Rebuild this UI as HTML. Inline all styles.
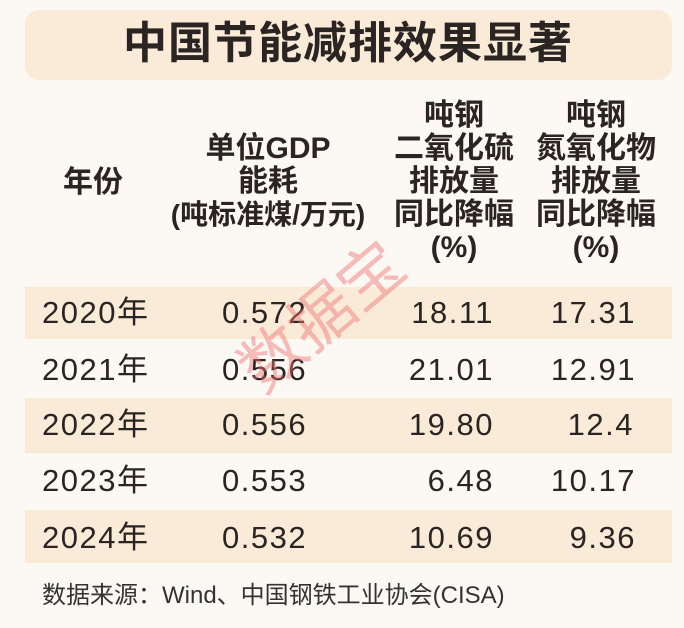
<!DOCTYPE html>
<html><head><meta charset="utf-8"><style>
body{margin:0;width:684px;height:628px;background:#fcf9f4;position:relative;overflow:hidden;font-family:"Liberation Sans","Noto Sans CJK SC",sans-serif;color:#2a2522}
.a{position:absolute;white-space:nowrap}
.band{position:absolute;left:25px;width:647px;background:#faebd9}
.h{font-size:30px;font-weight:bold;line-height:33px;text-align:center}
.r{font-size:31px;line-height:30px;letter-spacing:1.5px}
</style></head><body>
<div class="band" style="top:10px;height:70px;border-radius:14px"></div>
<div class="a" style="left:0;width:696px;top:18px;text-align:center;font-size:44px;font-weight:bold;line-height:52px;letter-spacing:1px">中国节能减排效果显著</div>

<div class="a h" style="left:43px;width:100px;top:166px">年份</div>
<div class="a h" style="left:150px;width:236px;top:132px">单位GDP<br>能耗<br><span style="font-size:28px">(吨标准煤/万元)</span></div>
<div class="a h" style="left:384px;width:140px;top:99px">吨钢<br>二氧化硫<br>排放量<br>同比降幅<br>(%)</div>
<div class="a h" style="left:526px;width:140px;top:99px">吨钢<br>氮氧化物<br>排放量<br>同比降幅<br>(%)</div>

<div class="band" style="top:287px;height:52px"></div>
<div class="band" style="top:398px;height:55px"></div>
<div class="band" style="top:510px;height:53px"></div>

<div class="a r" style="left:42px;top:298px">2020年</div>
<div class="a r" style="left:42px;top:355px">2021年</div>
<div class="a r" style="left:42px;top:410px">2022年</div>
<div class="a r" style="left:42px;top:466px">2023年</div>
<div class="a r" style="left:42px;top:523px">2024年</div>

<div class="a r" style="left:222px;top:298px">0.572</div>
<div class="a r" style="left:222px;top:355px">0.556</div>
<div class="a r" style="left:222px;top:410px">0.556</div>
<div class="a r" style="left:222px;top:466px">0.553</div>
<div class="a r" style="left:222px;top:523px">0.532</div>

<div class="a r" style="right:190px;top:298px">18.11</div>
<div class="a r" style="right:190px;top:355px">21.01</div>
<div class="a r" style="right:190px;top:410px">19.80</div>
<div class="a r" style="right:190px;top:466px">6.48</div>
<div class="a r" style="right:190px;top:523px">10.69</div>

<div class="a r" style="right:48px;top:298px">17.31</div>
<div class="a r" style="right:48px;top:355px">12.91</div>
<div class="a r" style="right:50px;top:410px">12.4</div>
<div class="a r" style="right:48px;top:466px">10.17</div>
<div class="a r" style="right:48px;top:523px">9.36</div>

<div class="a" style="left:42px;top:581px;font-size:24px;line-height:30px;color:#333;letter-spacing:0px">数据来源：Wind、中国钢铁工业协会(CISA)</div>

<div class="a" style="left:226px;top:284px;font-size:64px;line-height:66px;color:rgba(240,110,110,0.45);transform:rotate(-40deg);transform-origin:center">数据宝</div>
</body></html>
